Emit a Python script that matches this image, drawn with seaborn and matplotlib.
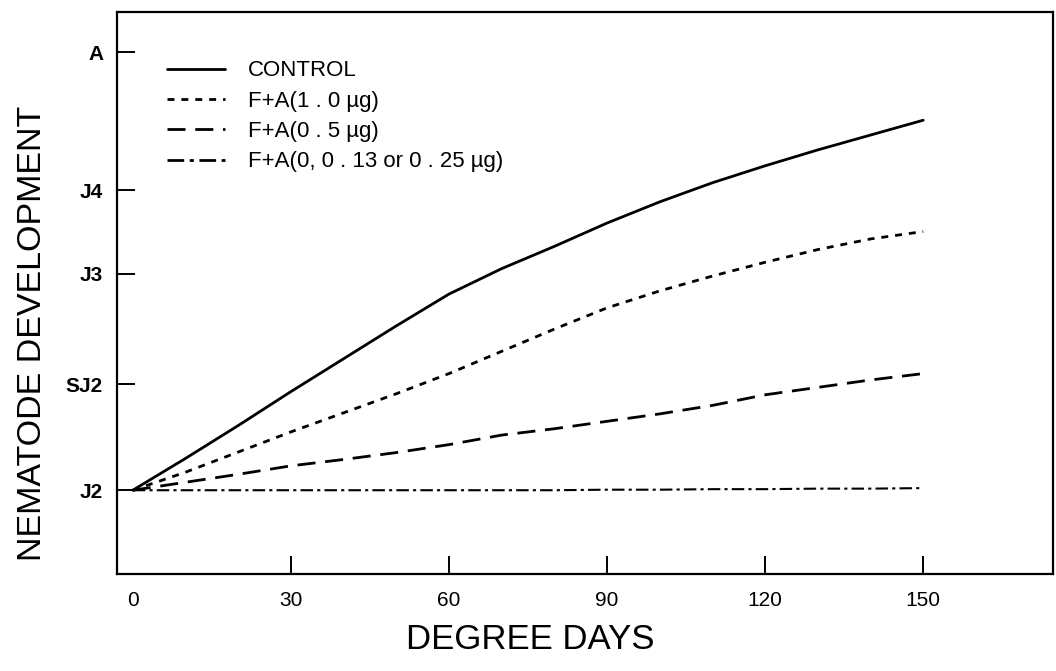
import numpy as np
import pandas as pd
import matplotlib
matplotlib.use("Agg")
import matplotlib.pyplot as plt
import seaborn as sns
from matplotlib import font_manager

# degree days sampled along the curves
degree_days = [0, 10, 20, 30, 40, 50, 60, 70, 80, 90, 100, 110, 120, 130, 140, 150]

# development stage (in axis units, J2 = 0)
control = [0.0, 0.30, 0.61, 0.93, 1.24, 1.55, 1.85, 2.09, 2.30, 2.52, 2.72, 2.90, 3.06, 3.21, 3.35, 3.49]
fa_10 = [0.0, 0.17, 0.36, 0.55, 0.73, 0.91, 1.10, 1.31, 1.52, 1.72, 1.88, 2.02, 2.15, 2.27, 2.37, 2.44]
fa_05 = [0.0, 0.075, 0.15, 0.23, 0.29, 0.355, 0.43, 0.52, 0.58, 0.65, 0.72, 0.80, 0.90, 0.97, 1.04, 1.10]
fa_low = [0.0, 0.0, 0.0, 0.0, 0.0, 0.0, 0.0, 0.0, 0.0, 0.005, 0.005, 0.01, 0.01, 0.015, 0.015, 0.02]

labels = ["CONTROL", "F+A(1 . 0 µg)", "F+A(0 . 5 µg)", "F+A(0, 0 . 13 or 0 . 25 µg)"]

stage_names = ["J2", "SJ2", "J3", "J4", "A"]
stage_pos = [0.0, 1.0, 2.04, 2.83, 4.13]
x_ticks = [0, 30, 60, 90, 120, 150]

df = pd.concat([
    pd.DataFrame({"dd": degree_days, "stage": vals, "treatment": lab})
    for vals, lab in zip([control, fa_10, fa_05, fa_low], labels)
])

sns.set_theme(style="white", rc={"text.color": "black", "axes.labelcolor": "black",
                                 "xtick.color": "black", "ytick.color": "black"})
names = {f.name for f in font_manager.fontManager.ttflist}
narrow = "Liberation Sans Narrow" if "Liberation Sans Narrow" in names else "Liberation Sans"
plt.rcParams["font.family"] = ["Liberation Sans", "DejaVu Sans"]

fig = plt.figure(figsize=(10.56, 6.71), dpi=100)
ax = fig.add_axes([0.1108, 0.1446, 0.997 - 0.1108, 0.982 - 0.1446])

dashes = {
    labels[0]: "",
    labels[1]: (2.5, 2.5),
    labels[2]: (6.5, 3.5),
    labels[3]: (6, 2, 1.5, 2),
}
sns.lineplot(data=df, x="dd", y="stage", style="treatment", dashes=dashes,
             color="black", linewidth=2.0, ax=ax, legend=True)
ax.get_lines()[3].set_linewidth(1.5)

ax.set_xlim(-3.0, 174.6)
ax.set_ylim(-0.79, 4.51)
ax.set_xticks(x_ticks)
ax.set_xticklabels([str(t) for t in x_ticks], fontsize=15)
ax.set_yticks(stage_pos)
ax.set_yticklabels(stage_names, fontsize=15, fontweight="bold")
ax.tick_params(axis="both", direction="in", length=13, width=1.4, colors="black",
               bottom=True, left=True, top=False, right=False)
ax.tick_params(axis="x", pad=12)
ax.tick_params(axis="y", pad=10)
ax.xaxis.get_major_ticks()[0].tick1line.set_visible(False)

for sp in ax.spines.values():
    sp.set_visible(True)
    sp.set_color("black")
    sp.set_linewidth(1.6)

xs = 29 if narrow != "Liberation Sans" else 25
ys = 28 if narrow != "Liberation Sans" else 24.5
ax.set_xlabel("DEGREE DAYS", fontsize=xs, family=narrow, color="black")
ax.set_ylabel("NEMATODE DEVELOPMENT", fontsize=ys, family=narrow, color="black")
ax.xaxis.set_label_coords(0.442, -0.088)
ax.yaxis.set_label_coords(-0.074, 0.429)

handles, labs = ax.get_legend_handles_labels()
leg = ax.legend(handles, labs, loc="upper left", bbox_to_anchor=(0.053, 0.914),
                frameon=False, fontsize=16, handlelength=2.65, handletextpad=1.0,
                labelspacing=0.42, borderpad=0, borderaxespad=0)
for h in leg.get_lines():
    h.set_color("black")
for t in leg.get_texts():
    t.set_color("black")

fig.savefig("out.png", dpi=100)
